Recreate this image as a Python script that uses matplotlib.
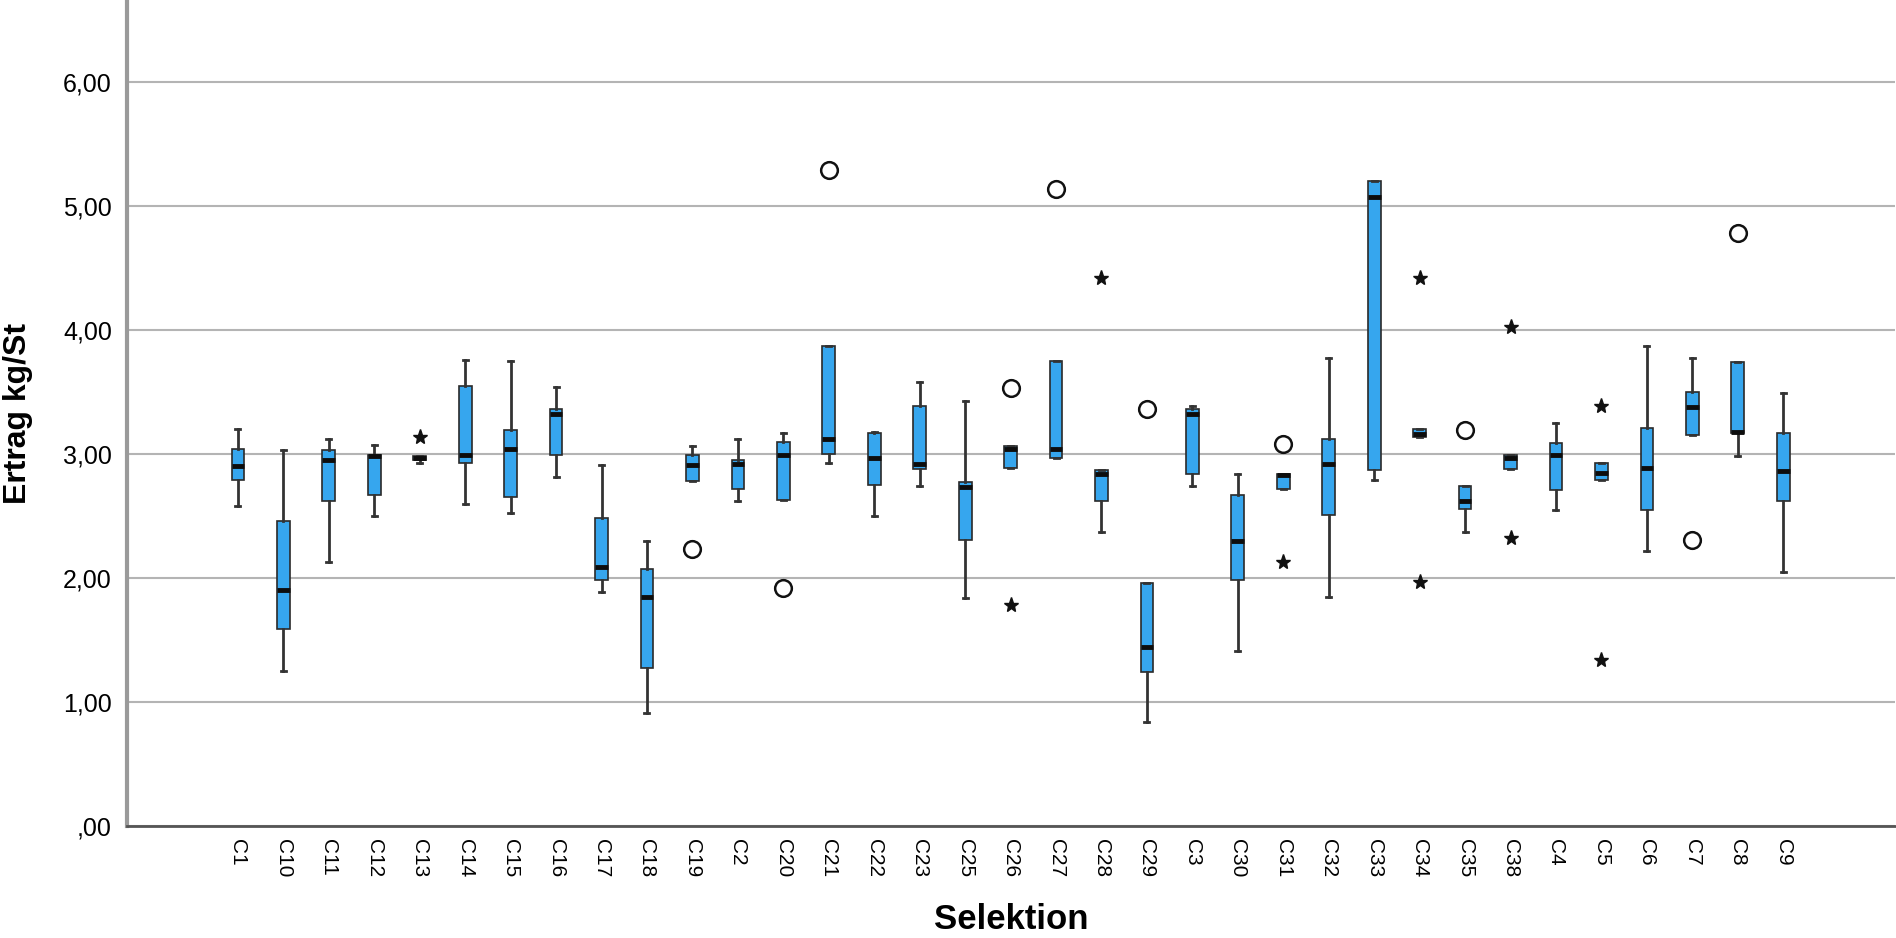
import numpy as np
import matplotlib
matplotlib.use("Agg")
import matplotlib.pyplot as plt

plt.rcParams['font.family'] = ['Liberation Sans', 'DejaVu Sans']

# categories (SPSS sorts them as strings)
selektion = ['C1', 'C10', 'C11', 'C12', 'C13', 'C14', 'C15', 'C16', 'C17', 'C18',
             'C19', 'C2', 'C20', 'C21', 'C22', 'C23', 'C25', 'C26', 'C27', 'C28',
             'C29', 'C3', 'C30', 'C31', 'C32', 'C33', 'C34', 'C35', 'C38', 'C4',
             'C5', 'C6', 'C7', 'C8', 'C9']

# box statistics
whis_hi = [3.20, 3.03, 3.12, 3.07, 2.98, 3.76, 3.75, 3.54, 2.91, 2.30,
           3.06, 3.12, 3.17, 3.87, 3.18, 3.58, 3.43, 3.06, 3.75, 2.87,
           1.96, 3.39, 2.84, 2.84, 3.77, 5.20, 3.20, 2.74, 2.99, 3.25,
           2.93, 3.87, 3.77, 3.74, 3.49]
q3 = [3.04, 2.46, 3.03, 2.99, 2.98, 3.55, 3.19, 3.36, 2.48, 2.07,
      2.99, 2.95, 3.10, 3.87, 3.17, 3.39, 2.77, 3.06, 3.75, 2.87,
      1.96, 3.36, 2.67, 2.84, 3.12, 5.20, 3.20, 2.74, 2.99, 3.09,
      2.93, 3.21, 3.50, 3.74, 3.17]
median = [2.90, 1.90, 2.95, 2.98, 2.97, 2.99, 3.04, 3.32, 2.09, 1.85,
          2.91, 2.92, 2.99, 3.12, 2.97, 2.92, 2.73, 3.04, 3.04, 2.84,
          1.44, 3.32, 2.30, 2.83, 2.92, 5.07, 3.16, 2.62, 2.97, 2.99,
          2.85, 2.89, 3.38, 3.18, 2.86]
q1 = [2.79, 1.59, 2.62, 2.67, 2.95, 2.93, 2.65, 2.99, 1.98, 1.27,
      2.78, 2.72, 2.63, 3.00, 2.75, 2.88, 2.31, 2.89, 2.97, 2.62,
      1.24, 2.84, 1.98, 2.72, 2.51, 2.87, 3.14, 2.56, 2.88, 2.71,
      2.79, 2.55, 3.15, 3.17, 2.62]
whis_lo = [2.58, 1.25, 2.13, 2.50, 2.93, 2.60, 2.52, 2.81, 1.89, 0.91,
           2.78, 2.62, 2.63, 2.93, 2.50, 2.74, 1.84, 2.89, 2.97, 2.37,
           0.84, 2.74, 1.41, 2.72, 1.85, 2.79, 3.14, 2.37, 2.88, 2.55,
           2.79, 2.22, 3.15, 2.98, 2.05]

# outliers (circles) and extreme values (stars)
outliers = {'C19': [2.23], 'C20': [1.92], 'C21': [5.29], 'C26': [3.53],
            'C27': [5.14], 'C29': [3.36], 'C31': [3.08], 'C35': [3.19],
            'C7': [2.31], 'C8': [4.78]}
extremes = {'C13': [3.14], 'C26': [1.78], 'C28': [4.42], 'C31': [2.13],
            'C34': [4.42, 1.97], 'C38': [4.02, 2.32], 'C5': [3.39, 1.34]}

fig = plt.figure(figsize=(18.96, 9.38), dpi=100)
ax = fig.add_axes([0.067, 0.1194, 0.9325, 0.8806])

stats = []
for i, name in enumerate(selektion):
    stats.append({
        'label': name,
        'whislo': whis_lo[i], 'q1': q1[i], 'med': median[i],
        'q3': q3[i], 'whishi': whis_hi[i],
        'fliers': outliers.get(name, []),
    })

pos = np.arange(len(selektion))
ax.bxp(stats, positions=pos, widths=0.28, capwidths=0.11, patch_artist=True,
       boxprops=dict(facecolor='#36a6ee', edgecolor='#2a2a2a', linewidth=1.2),
       medianprops=dict(color='#0d0d0d', linewidth=3.5, solid_capstyle='butt'),
       whiskerprops=dict(color='#333333', linewidth=2),
       capprops=dict(color='#333333', linewidth=2),
       flierprops=dict(marker='o', markerfacecolor='none', markeredgecolor='#111111',
                       markersize=12, markeredgewidth=1.8),
       zorder=3)

for i, name in enumerate(selektion):
    vals = extremes.get(name, [])
    if vals:
        ax.plot(np.full(len(vals), pos[i]), vals, linestyle='none', marker='*',
                color='#111111', markersize=11, zorder=4)

ax.set_xlim(-2.44, 36.46)
ax.set_ylim(0, 6.66)
ax.set_yticks(np.arange(0, 7))
ax.set_yticklabels([',00', '1,00', '2,00', '3,00', '4,00', '5,00', '6,00'], fontsize=18)
ax.set_xticks(pos)
ax.set_xticklabels(selektion, rotation=-90, fontsize=15, va='top', ha='center')
ax.tick_params(axis='y', length=0, pad=11)
ax.tick_params(axis='x', length=0, pad=9)
ax.yaxis.grid(True, color='#b4b4b4', linewidth=1.5, zorder=0)
ax.set_axisbelow(True)

for side in ['top', 'right']:
    ax.spines[side].set_visible(False)
ax.spines['left'].set_color('#9a9a9a')
ax.spines['left'].set_linewidth(3)
ax.spines['bottom'].set_color('#555555')
ax.spines['bottom'].set_linewidth(2)

ax.set_ylabel('Ertrag kg/St', fontsize=23, fontweight='bold')
ax.yaxis.set_label_coords(-0.053, 0.5)
fig.text(1011 / 1896, 0.002, 'Selektion', fontsize=25, fontweight='bold',
         ha='center', va='bottom')

fig.savefig('out.png', dpi=100)
